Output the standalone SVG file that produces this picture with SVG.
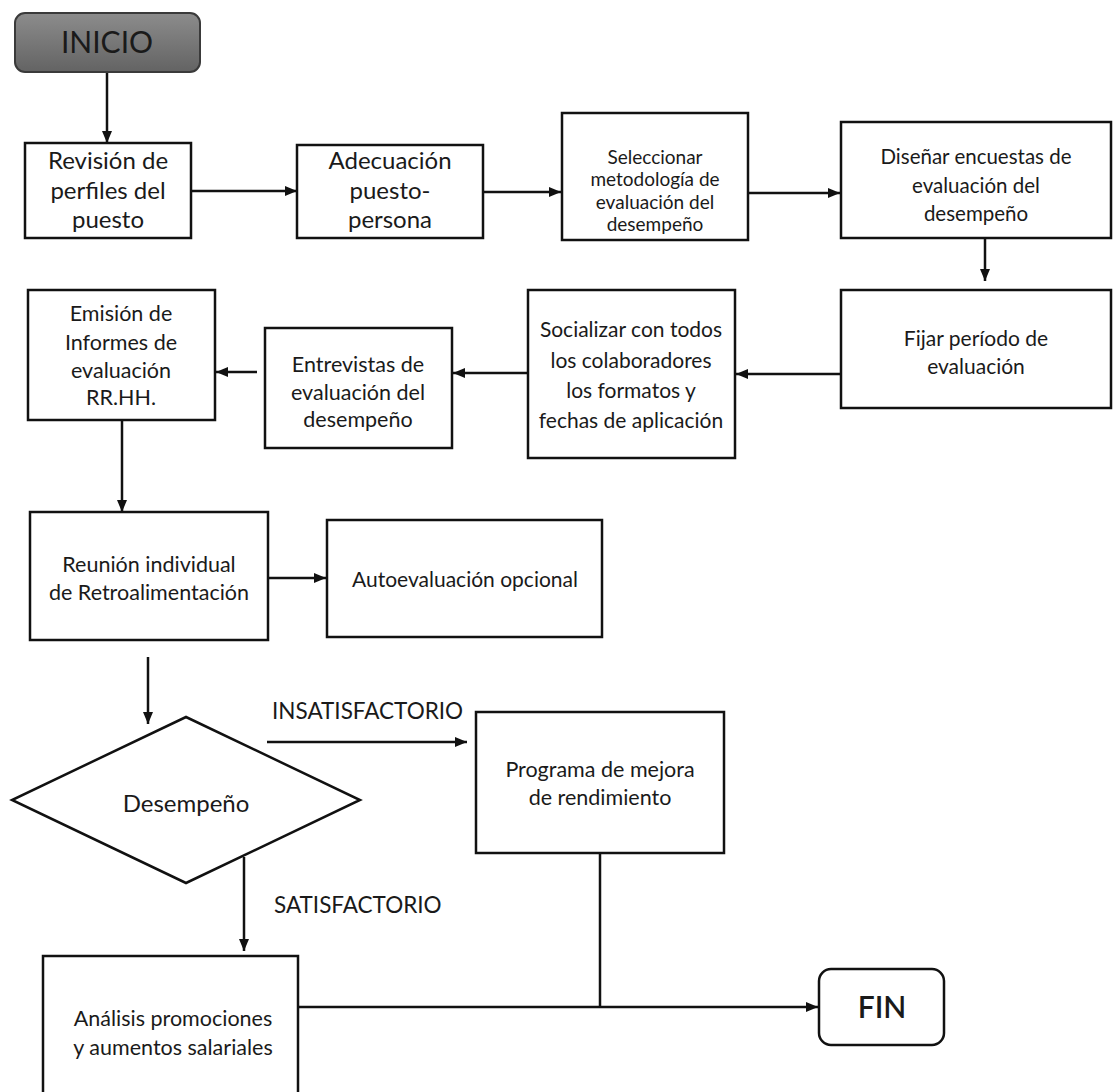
<svg xmlns="http://www.w3.org/2000/svg" width="1113" height="1092" viewBox="0 0 1113 1092">
  <defs>
    <linearGradient id="startFill" x1="0" y1="0" x2="0" y2="1">
      <stop offset="0" stop-color="#8c8c8c"/>
      <stop offset="1" stop-color="#636363"/>
    </linearGradient>
    <marker id="arrow" viewBox="0 0 12 10" refX="12" refY="5" markerWidth="12" markerHeight="10" markerUnits="userSpaceOnUse" orient="auto">
      <path d="M0,0 L12,5 L0,10 z" fill="#111"/>
    </marker>
    <style>
      .box { fill: #fff; stroke: #111; stroke-width: 2.5; }
      .term { fill: #fff; stroke: #111; stroke-width: 2.5; }
      .start { fill: url(#startFill); stroke: #3a3a3a; stroke-width: 2; }
      .conn { fill: none; stroke: #111; stroke-width: 2.5; }
      .arr { marker-end: url(#arrow); }
      text { font-family: Lato, "Liberation Sans", sans-serif; fill: #1a1a1a; text-anchor: middle; }
      .t24 { font-size: 24px; }
      .t215 { font-size: 21.5px; }
      .t21 { font-size: 21px; }
      .t20 { font-size: 20.5px; }
      .t19 { font-size: 19px; }
      .lbl { font-size: 22.5px; text-anchor: start; }
    </style>
  </defs>

  <!-- connectors -->
  <g id="connectors">
    <path class="conn arr" d="M107,72 V143"/>
    <path class="conn arr" d="M191,191 H297"/>
    <path class="conn arr" d="M483,192 H561"/>
    <path class="conn arr" d="M748,193 H840"/>
    <path class="conn arr" d="M985,238 V281"/>
    <path class="conn arr" d="M841,374 H736"/>
    <path class="conn arr" d="M528,373 H453"/>
    <path class="conn arr" d="M257,372 H216"/>
    <path class="conn arr" d="M122,420 V512"/>
    <path class="conn arr" d="M268,578 H326"/>
    <path class="conn arr" d="M148,657 V724"/>
    <path class="conn arr" d="M267,742 H467"/>
    <path class="conn arr" d="M244,857 V951"/>
    <path class="conn" d="M600,853 V1007"/>
    <path class="conn arr" d="M298,1007 H818"/>
    <text class="lbl" x="272" y="719">INSATISFACTORIO</text>
    <text class="lbl" x="274" y="913">SATISFACTORIO</text>
  </g>

  <g id="inicio">
    <rect class="start" x="15" y="13" width="185" height="59" rx="10"/>
    <text x="107" y="53" style="font-size:30px">INICIO</text>
  </g>

  <g id="revision">
    <rect class="box" x="25" y="143" width="166" height="95"/>
    <text class="t24" x="108" y="169">Revisión de</text>
    <text class="t24" x="108" y="199">perfiles del</text>
    <text class="t24" x="108" y="228">puesto</text>
  </g>

  <g id="adecuacion">
    <rect class="box" x="297" y="145" width="186" height="93"/>
    <text class="t24" x="390" y="169">Adecuación</text>
    <text class="t24" x="390" y="199">puesto-</text>
    <text class="t24" x="390" y="228">persona</text>
  </g>

  <g id="metodologia">
    <rect class="box" x="562" y="113" width="186" height="127"/>
    <text class="t19" x="655" y="164">Seleccionar</text>
    <text class="t19" x="655" y="186">metodología de</text>
    <text class="t19" x="655" y="209">evaluación del</text>
    <text class="t19" x="655" y="231">desempeño</text>
  </g>

  <g id="encuestas">
    <rect class="box" x="841" y="122" width="270" height="116"/>
    <text class="t20" x="976" y="164">Diseñar encuestas de</text>
    <text class="t20" x="976" y="193">evaluación del</text>
    <text class="t20" x="976" y="221">desempeño</text>
  </g>

  <g id="periodo">
    <rect class="box" x="841" y="290" width="270" height="118"/>
    <text class="t21" x="976" y="346">Fijar período de</text>
    <text class="t21" x="976" y="374">evaluación</text>
  </g>

  <g id="socializar">
    <rect class="box" x="528" y="290" width="207" height="168"/>
    <text class="t21" x="631" y="337">Socializar con todos</text>
    <text class="t21" x="631" y="368">los colaboradores</text>
    <text class="t21" x="631" y="398">los formatos y</text>
    <text class="t21" x="631" y="428">fechas de aplicación</text>
  </g>

  <g id="entrevistas">
    <rect class="box" x="265" y="328" width="187" height="120"/>
    <text class="t215" x="358" y="372">Entrevistas de</text>
    <text class="t215" x="358" y="400">evaluación del</text>
    <text class="t215" x="358" y="427">desempeño</text>
  </g>

  <g id="informes">
    <rect class="box" x="28" y="290" width="187" height="130"/>
    <text class="t215" x="121" y="321">Emisión de</text>
    <text class="t215" x="121" y="350">Informes de</text>
    <text class="t215" x="121" y="378">evaluación</text>
    <text class="t215" x="121" y="405">RR.HH.</text>
  </g>

  <g id="reunion">
    <rect class="box" x="30" y="512" width="238" height="128"/>
    <text class="t215" x="149" y="572">Reunión individual</text>
    <text class="t215" x="149" y="600">de Retroalimentación</text>
  </g>

  <g id="autoevaluacion">
    <rect class="box" x="327" y="520" width="275" height="117"/>
    <text class="t21" x="465" y="587">Autoevaluación opcional</text>
  </g>

  <g id="desempeno">
    <polygon class="box" points="186,717 360,800 186,883 12,800"/>
    <text x="186" y="812" style="font-size:24px">Desempeño</text>
  </g>

  <g id="mejora">
    <rect class="box" x="476" y="712" width="248" height="141"/>
    <text class="t215" x="600" y="777">Programa de mejora</text>
    <text class="t215" x="600" y="805">de rendimiento</text>
  </g>

  <g id="analisis">
    <rect class="box" x="43" y="956" width="255" height="160"/>
    <text class="t215" x="173" y="1026">Análisis promociones</text>
    <text class="t215" x="173" y="1055">y aumentos salariales</text>
  </g>

  <g id="fin">
    <rect class="term" x="819" y="969" width="125" height="76" rx="12"/>
    <text x="882" y="1018" style="font-size:30px;font-weight:600">FIN</text>
  </g>
</svg>
